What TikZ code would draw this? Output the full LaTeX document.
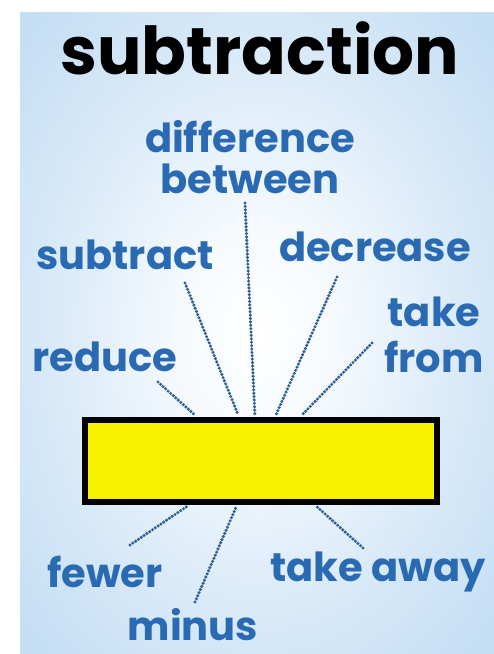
\documentclass[tikz,border=0pt]{standalone}
\usepackage{fontspec}
\setmainfont{Poppins}
\definecolor{wordblue}{HTML}{2A6AB3}
\definecolor{linkblue}{HTML}{2F5F94}
\definecolor{skyblue}{HTML}{C4DEF4}
\definecolor{boxyellow}{HTML}{F7F000}
\pgfdeclareradialshading{skyglow}{\pgfpoint{0bp}{0bp}}{%
  color(0bp)=(white); color(8bp)=(white!85!skyblue); color(22bp)=(white!35!skyblue);
  color(34bp)=(skyblue); color(50bp)=(skyblue)}
\tikzset{
  word/.style={text=wordblue,font=\fontsize{40}{46}\selectfont\bfseries,inner sep=2pt,align=center},
  link/.style={linkblue,line width=3.4pt,line cap=round,dash pattern=on 0pt off 3.4pt,shorten >=2pt}
}
\begin{document}
\begin{tikzpicture}[x=1pt,y=-1pt]
\useasboundingbox (0,0) rectangle (494,654);
% background
\fill[white] (0,0) rectangle (494,654);
\shade[shading=skyglow] (20,12) rectangle (494,653);

\node (title) at (260,48) {\fontsize{66}{68}\selectfont\bfseries subtraction};

% the box
\node[draw=black,fill=boxyellow,line width=6pt,minimum width=352pt,minimum height=82pt,inner sep=0pt] (box) at (261,461) {};

% words above
\node[word,font=\fontsize{40}{41}\selectfont\bfseries] (diff) at (250,157) {difference\\between};
\node[word] (subtract) at (125,255) {subtract};
\node[word] (decrease) at (375,247) {decrease};
\node[word] (takefrom) at (434,335) {take\\from};
\node[word] (reduce) at (105,357) {reduce};

% words below
\node[word] (fewer) at (105,572) {fewer};
\node[word] (minus) at (193,625) {minus};
\node[word] (takeaway) at (378,572) {take away};

% connectors
\draw[link] ([xshift=53pt,yshift=-25pt]reduce.center) -- ([xshift=115pt]box.north west);
\draw[link] ([xshift=60pt,yshift=-28pt]subtract.center) -- ([xshift=157pt]box.north west);
\draw[link] ([xshift=-5pt,yshift=-46pt]diff.center) -- ([xshift=173pt]box.north west);
\draw[link] ([xshift=-38pt,yshift=-30pt]decrease.center) -- ([xshift=193pt]box.north west);
\draw[link] ([xshift=-62pt,yshift=-8pt]takefrom.center) -- ([xshift=218pt]box.north west);
\draw[link] ([xshift=25pt,yshift=27pt]fewer.center) -- ([xshift=107pt]box.south west);
\draw[link] ([xshift=2pt,yshift=23pt]minus.center) -- ([xshift=155pt]box.south west);
\draw[link] ([xshift=-15pt,yshift=24pt]takeaway.center) -- ([xshift=233pt]box.south west);
\end{tikzpicture}
\end{document}
